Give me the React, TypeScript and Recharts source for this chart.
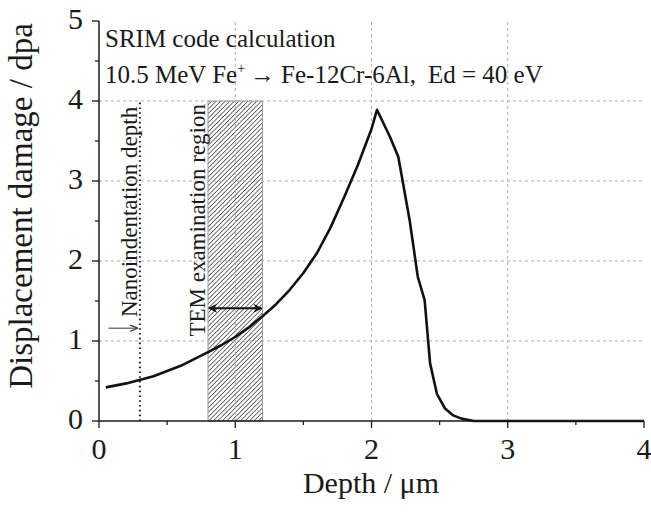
import React from 'react';
import { ComposedChart, Line, XAxis, YAxis, ReferenceLine, ReferenceArea, ReferenceDot, Label } from 'recharts';

// SRIM damage profile (depth in um, damage in dpa)
const depth = [0.05, 0.2, 0.4, 0.6, 0.8, 0.9, 1.0, 1.1, 1.2, 1.3, 1.4, 1.5, 1.6, 1.7, 1.8, 1.9, 2.0, 2.04, 2.136, 2.197, 2.28, 2.34, 2.39, 2.43, 2.48, 2.54, 2.6, 2.66, 2.75, 3.0, 3.5, 4.0];
const damage = [0.42, 0.47, 0.56, 0.69, 0.86, 0.95, 1.05, 1.17, 1.31, 1.46, 1.64, 1.85, 2.1, 2.42, 2.8, 3.2, 3.65, 3.89, 3.55, 3.3, 2.51, 1.8, 1.51, 0.72, 0.34, 0.155, 0.07, 0.03, 0, 0, 0, 0];

const xTicks = [0, 0.5, 1, 1.5, 2, 2.5, 3, 3.5, 4];
const yTicks = [0, 0.5, 1, 1.5, 2, 2.5, 3, 3.5, 4, 4.5, 5];
const gridX = [1, 2, 3];
const gridY = [1, 2, 3, 4];

const nanoDepth = 0.3;
const temRegion = [0.8, 1.2];
const markerTop = 4;

const data = depth.map((d, i) => ({ depth: d, dpa: damage[i] }));

const FONT = "'Liberation Serif', 'Times New Roman', Times, serif";
const INK = '#1a1a1a';

const BottomTick = (props: any) => {
  const { x, y, payload } = props;
  const major = Number.isInteger(payload.value);
  return (
    <g>
      <line x1={x} y1={y} x2={x} y2={y + (major ? 7 : 4)} stroke={INK} strokeWidth={1.3} />
      {major && (
        <text x={x} y={y + 38} textAnchor="middle" fontSize={30} fontFamily={FONT} fill={INK}>
          {payload.value}
        </text>
      )}
    </g>
  );
};

const LeftTick = (props: any) => {
  const { x, y, payload } = props;
  const major = Number.isInteger(payload.value);
  return (
    <g>
      <line x1={x} y1={y} x2={x - (major ? 7 : 4)} y2={y} stroke={INK} strokeWidth={1.3} />
      {major && (
        <text x={x - 16} y={y + 8} textAnchor="end" fontSize={30} fontFamily={FONT} fill={INK}>
          {payload.value}
        </text>
      )}
    </g>
  );
};

const TopTick = (props: any) => {
  const { x, y } = props;
  return <line x1={x} y1={y} x2={x} y2={y + 4} stroke={INK} strokeWidth={1.3} />;
};

const RightTick = (props: any) => {
  const { x, y } = props;
  return <line x1={x} y1={y} x2={x + 3} y2={y} stroke={INK} strokeWidth={1.3} />;
};

const App: React.FC = () => {
  return (
    <div style={{ position: 'absolute', left: 0, top: 0, background: '#fff' }}>
      <ComposedChart width={651} height={513} data={data} margin={{ top: 21, right: 7, bottom: 0, left: 0 }}>
        <defs>
          <pattern id="hatch" width="3.2" height="3.2" patternUnits="userSpaceOnUse" patternTransform="rotate(45)">
            <line x1="0" y1="0" x2="0" y2="3.2" stroke="#000" strokeWidth="1.1" />
          </pattern>
          <marker id="headBlack" viewBox="0 0 10 10" refX="9" refY="5" markerUnits="userSpaceOnUse" markerWidth="10" markerHeight="9" orient="auto-start-reverse">
            <path d="M0,0 L10,5 L0,10 L3,5 z" fill="#111" />
          </marker>
          <marker id="headGray" viewBox="0 0 10 10" refX="9" refY="5" markerUnits="userSpaceOnUse" markerWidth="8" markerHeight="8" orient="auto">
            <path d="M0,1 L10,5 L0,9" fill="none" stroke="#333" strokeWidth="1.5" />
          </marker>
        </defs>

        <XAxis
          dataKey="depth"
          type="number"
          domain={[0, 4]}
          ticks={xTicks}
          interval={0}
          height={92}
          tickSize={0}
          tickMargin={0}
          tickLine={false}
          tick={<BottomTick />}
          axisLine={{ stroke: INK, strokeWidth: 1.5 }}
        >
          <Label
            content={() => (
              <text x={371} y={493} textAnchor="middle" fontSize={30} fontFamily={FONT} fill={INK}>
                Depth / μm
              </text>
            )}
          />
        </XAxis>
        <XAxis
          xAxisId="top"
          orientation="top"
          type="number"
          domain={[0, 4]}
          ticks={xTicks}
          interval={0}
          height={0}
          tickSize={0}
          tickMargin={0}
          tickLine={false}
          tick={<TopTick />}
          axisLine={{ stroke: INK, strokeWidth: 1.5 }}
        />
        <YAxis
          type="number"
          domain={[0, 5]}
          ticks={yTicks}
          interval={0}
          width={99}
          tickSize={0}
          tickMargin={0}
          tickLine={false}
          tick={<LeftTick />}
          axisLine={{ stroke: INK, strokeWidth: 1.5 }}
        >
          <Label
            content={() => (
              <text x={32} y={206} transform="rotate(-90 32 206)" textAnchor="middle" fontSize={33} fontFamily={FONT} fill={INK}>
                Displacement damage / dpa
              </text>
            )}
          />
        </YAxis>
        <YAxis
          yAxisId="right"
          orientation="right"
          type="number"
          domain={[0, 5]}
          ticks={yTicks}
          interval={0}
          width={0}
          tickSize={0}
          tickMargin={0}
          tickLine={false}
          tick={<RightTick />}
          axisLine={{ stroke: INK, strokeWidth: 1.5 }}
        />

        {gridX.map(v => (
          <ReferenceLine key={`gx-${v}`} x={v} stroke="#adadad" strokeDasharray="3 3" strokeWidth={1} />
        ))}
        {gridY.map(v => (
          <ReferenceLine key={`gy-${v}`} y={v} stroke="#adadad" strokeDasharray="3 3" strokeWidth={1} />
        ))}

        <ReferenceArea
          x1={temRegion[0]}
          x2={temRegion[1]}
          y1={0}
          y2={markerTop}
          fill="url(#hatch)"
          fillOpacity={1}
          stroke="#999"
          strokeWidth={1}
        />

        <ReferenceLine
          segment={[{ x: nanoDepth, y: 0 }, { x: nanoDepth, y: markerTop }]}
          stroke="#222"
          strokeWidth={2}
          strokeDasharray="1.6 3.2"
        />

        <Line
          type="linear"
          dataKey="dpa"
          stroke="#111"
          strokeWidth={2.6}
          strokeLinejoin="round"
          dot={false}
          isAnimationActive={false}
        />

        {/* TEM region double arrow */}
        <ReferenceLine
          segment={[{ x: temRegion[0], y: 1.41 }, { x: temRegion[1], y: 1.41 }]}
          ifOverflow="visible"
          shape={(p: any) => (
            <line x1={p.x1 + 1} y1={p.y1} x2={p.x2 - 1} y2={p.y2} stroke="#111" strokeWidth={2} markerStart="url(#headBlack)" markerEnd="url(#headBlack)" />
          )}
        />
        {/* nanoindentation arrow */}
        <ReferenceLine
          segment={[{ x: 0.07, y: 1.16 }, { x: nanoDepth - 0.02, y: 1.16 }]}
          ifOverflow="visible"
          shape={(p: any) => (
            <line x1={p.x1} y1={p.y1} x2={p.x2} y2={p.y2} stroke="#555" strokeWidth={1.2} markerEnd="url(#headGray)" />
          )}
        />

        <ReferenceDot
          x={0.279}
          y={1.3}
          ifOverflow="visible"
          shape={(p: any) => (
            <text x={p.cx} y={p.cy} transform={`rotate(-90 ${p.cx} ${p.cy})`} fontSize={23} fontFamily={FONT} fill={INK}>
              Nanoindentation depth
            </text>
          )}
        />
        <ReferenceDot
          x={0.778}
          y={1.055}
          ifOverflow="visible"
          shape={(p: any) => (
            <text x={p.cx} y={p.cy} transform={`rotate(-90 ${p.cx} ${p.cy})`} fontSize={23} fontFamily={FONT} fill={INK}>
              TEM examination region
            </text>
          )}
        />

        <ReferenceDot
          x={0.044}
          y={4.68}
          ifOverflow="visible"
          shape={(p: any) => (
            <text x={p.cx} y={p.cy} fontSize={25} fontFamily={FONT} fill={INK}>
              SRIM code calculation
            </text>
          )}
        />
        <ReferenceDot
          x={0.044}
          y={4.23}
          ifOverflow="visible"
          shape={(p: any) => (
            <text x={p.cx} y={p.cy} fontSize={25} fontFamily={FONT} fill={INK}>
              10.5 MeV Fe
              <tspan fontSize={14} dy={-10}>+</tspan>
              <tspan dy={10} dx={5}>→</tspan>
              <tspan dx={6}>Fe-12Cr-6Al,</tspan>
              <tspan dx={12}>Ed = 40 eV</tspan>
            </text>
          )}
        />
      </ComposedChart>
    </div>
  );
};

export default App;
